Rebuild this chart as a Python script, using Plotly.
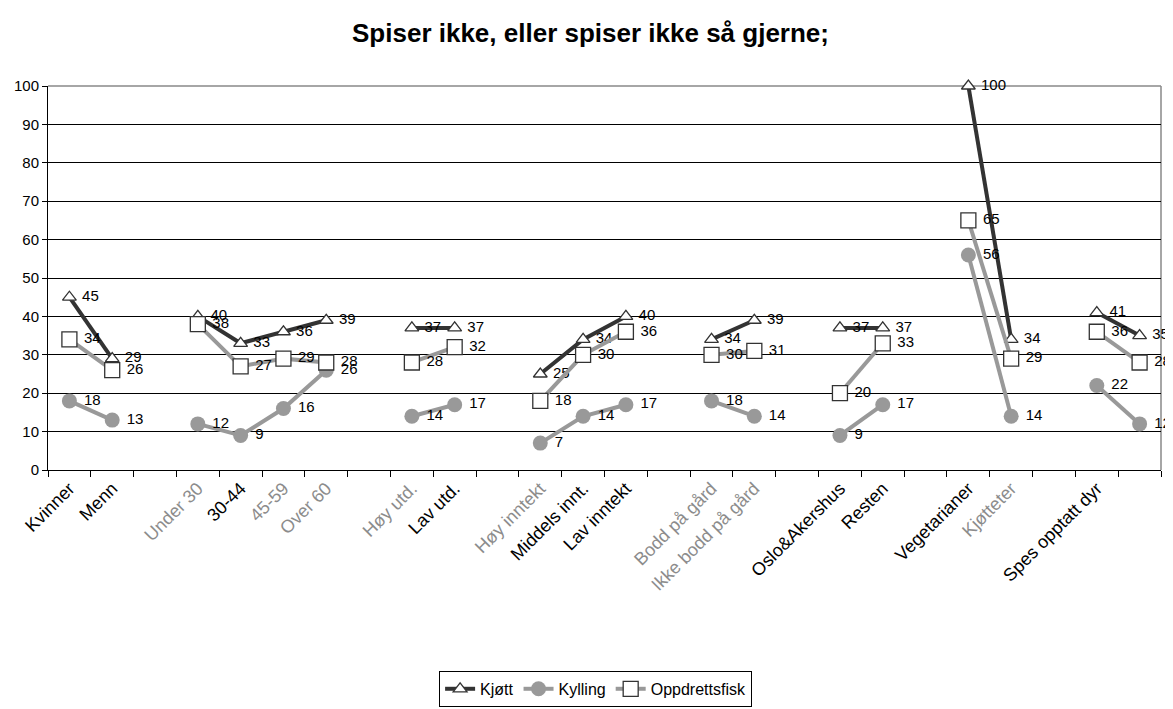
import plotly.graph_objects as go

# Category slots (empty strings are gaps between groups)
categories = ["Kvinner", "Menn", "",
              "Under 30", "30-44", "45-59", "Over 60", "",
              "Høy utd.", "Lav utd.", "",
              "Høy inntekt", "Middels innt.", "Lav inntekt", "",
              "Bodd på gård", "Ikke bodd på gård", "",
              "Oslo&Akershus", "Resten", "",
              "Vegetarianer", "Kjøtteter", "",
              "Spes opptatt dyr", ""]
blurred = {"Under 30", "45-59", "Over 60", "Høy utd.", "Høy inntekt",
           "Bodd på gård", "Ikke bodd på gård", "Kjøtteter"}

kjott = [45, 29, None, 40, 33, 36, 39, None, 37, 37, None, 25, 34, 40, None,
         34, 39, None, 37, 37, None, 100, 34, None, 41, 35]
kylling = [18, 13, None, 12, 9, 16, 26, None, 14, 17, None, 7, 14, 17, None,
           18, 14, None, 9, 17, None, 56, 14, None, 22, 12]
fisk = [34, 26, None, 38, 27, 29, 28, None, 28, 32, None, 18, 30, 36, None,
        30, 31, None, 20, 33, None, 65, 29, None, 36, 28]

x = list(range(len(categories)))
ticktext = [f'<span style="color:#8c8c8c">{c}</span>' if c in blurred else c
            for c in categories]

def lab(vals):
    return ["" if v is None else "\u00a0" + str(v) for v in vals]

LBL = dict(size=15, color="black", family="Liberation Sans, Arial, sans-serif")

fig = go.Figure()
fig.add_trace(go.Scatter(
    x=x, y=kjott, name="Kjøtt", mode="lines+markers+text",
    line=dict(color="#333333", width=4),
    marker=dict(symbol="triangle-up", size=12, color="white",
                line=dict(color="#333333", width=1.3)),
    text=lab(kjott), textposition="middle right", cliponaxis=False,
    textfont=LBL, connectgaps=False))
fig.add_trace(go.Scatter(
    x=x, y=kylling, name="Kylling", mode="lines+markers+text",
    line=dict(color="#999999", width=4),
    marker=dict(symbol="circle", size=15, color="#999999",
                line=dict(color="#999999", width=0)),
    text=lab(kylling), textposition="middle right", cliponaxis=False,
    textfont=LBL, connectgaps=False))
fig.add_trace(go.Scatter(
    x=x, y=fisk, name="Oppdrettsfisk", mode="lines+markers+text",
    line=dict(color="#999999", width=4),
    marker=dict(symbol="square", size=15, color="white",
                line=dict(color="#333333", width=1.3)),
    text=lab(fisk), textposition="middle right", cliponaxis=False,
    textfont=LBL, connectgaps=False))

fig.update_layout(
    width=1165, height=701,
    paper_bgcolor="white", plot_bgcolor="white",
    font=dict(family="Liberation Sans, Arial, sans-serif", size=15, color="black"),
    title=dict(text="<b>Spiser ikke, eller spiser ikke så gjerne;</b>",
               x=0.5, xanchor="center", y=0.964, yanchor="middle",
               font=dict(size=26, color="black")),
    margin=dict(l=40, r=12, t=78, b=239, autoexpand=False),
    showlegend=True,
    legend=dict(orientation="h", x=0.492, xanchor="center", y=-0.57,
                yanchor="middle", bordercolor="black", borderwidth=1,
                font=dict(size=16), itemwidth=30, tracegroupgap=0),
)
fig.update_xaxes(
    range=[-0.5, len(categories) - 0.5], automargin=False,
    tickmode="array", tickvals=x, ticktext=ticktext, tickangle=-45,
    ticks="", showgrid=False, zeroline=False,
    showline=True, linecolor="black", linewidth=1, mirror=False,
    tickfont=dict(size=18),
    minor=dict(tickmode="linear", tick0=-0.5, dtick=1, ticks="outside",
               ticklen=6, tickcolor="black", showgrid=False),
)
fig.update_yaxes(
    range=[0, 100], dtick=10, tick0=0, automargin=False,
    showgrid=True, gridcolor="black", gridwidth=1,
    zeroline=False, showline=True, linecolor="black", linewidth=1,
    ticks="outside", ticklen=5, tickcolor="black",
    tickfont=dict(size=15),
)
# gray top and right border of the plot area
fig.add_shape(type="line", xref="paper", yref="paper", x0=0, y0=1, x1=1, y1=1,
              line=dict(color="#888888", width=1.5), layer="between")
fig.add_shape(type="line", xref="paper", yref="paper", x0=1, y0=0, x1=1, y1=1,
              line=dict(color="#888888", width=1.5), layer="between")

fig.write_html("out.html")
